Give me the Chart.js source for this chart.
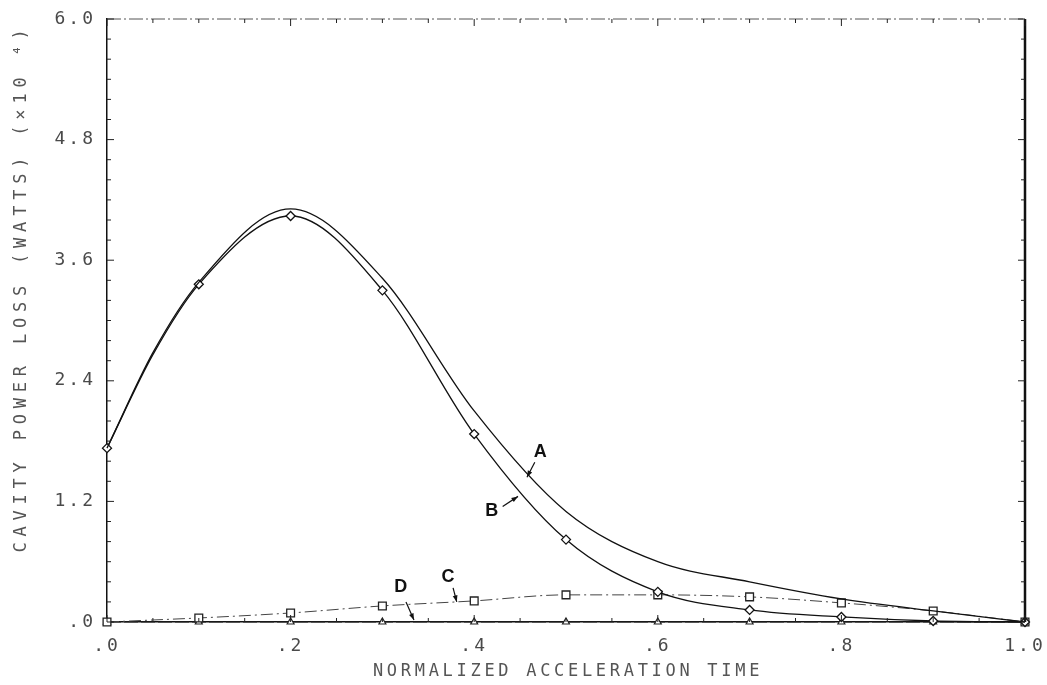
<!DOCTYPE html>
<html>
<head>
<meta charset="utf-8">
<title>Cavity power loss</title>
<script src="https://cdn.jsdelivr.net/npm/chart.js@4/dist/chart.umd.min.js"></script>
<style>
  html, body { margin: 0; padding: 0; background: #fff; }
  #wrap { width: 1047px; height: 685px; }
</style>
</head>
<body>
<div id="wrap"><canvas id="chart" width="1047" height="685"></canvas></div>
<script>
// normalized acceleration time (0.05 added where the rise is steep)
const times = [0, 0.05, 0.1, 0.2, 0.3, 0.4, 0.5, 0.6, 0.7, 0.8, 0.9, 1.0];
// cavity power loss, units of 10^4 W
const curveA = [1.73, 2.68, 3.38, 4.11, 3.42, 2.10, 1.10, 0.60, 0.40, 0.23, 0.11, 0.0];
const curveB = [1.73, 2.66, 3.36, 4.04, 3.30, 1.87, 0.82, 0.30, 0.12, 0.05, 0.01, 0.0];
const curveC = [0.0, 0.02, 0.04, 0.09, 0.16, 0.21, 0.27, 0.27, 0.25, 0.19, 0.11, 0.0];
const curveD = [0, 0, 0, 0, 0, 0, 0, 0, 0, 0, 0, 0];

const xTitle = 'NORMALIZED ACCELERATION TIME';
const yTitle = 'CAVITY POWER LOSS (WATTS) (\u00d710 \u2074)';

// curve labels with little arrows (data coords)
const callouts = [
  { text: 'A', tx: 0.472, ty: 1.69, from: [0.466, 1.59], to: [0.4575, 1.44] },
  { text: 'B', tx: 0.419, ty: 1.10, from: [0.431, 1.15], to: [0.4477, 1.25] },
  { text: 'C', tx: 0.3715, ty: 0.45, from: [0.377, 0.34], to: [0.381, 0.20] },
  { text: 'D', tx: 0.320, ty: 0.35, from: [0.3257, 0.20], to: [0.3344, 0.02] }
];

const pts = vals => times.map((t, i) => ({ x: t, y: vals[i] }));
const fmt = v => v.toFixed(1).replace(/^0/, '');
// markers only on the 0.1 grid
const onGrid = ctx => Math.abs(ctx.raw.x * 10 - Math.round(ctx.raw.x * 10)) < 1e-6;

const framePlugin = {
  id: 'frame',
  beforeDraw(chart) {
    chart.ctx.letterSpacing = '3px';
  },
  afterDraw(chart) {
    const { ctx, chartArea: a, scales: { x, y } } = chart;
    ctx.save();
    ctx.letterSpacing = '0px';

    // top border, dash-dot
    ctx.strokeStyle = '#555';
    ctx.lineWidth = 1;
    ctx.setLineDash([14, 3, 2, 3]);
    ctx.beginPath();
    ctx.moveTo(a.left, a.top);
    ctx.lineTo(a.right, a.top);
    ctx.stroke();
    ctx.setLineDash([]);

    // right border
    ctx.strokeStyle = '#111';
    ctx.lineWidth = 2.5;
    ctx.beginPath();
    ctx.moveTo(a.right, a.top);
    ctx.lineTo(a.right, a.bottom);
    ctx.stroke();

    // inward tick marks
    ctx.lineWidth = 1;
    ctx.strokeStyle = '#222';
    ctx.beginPath();
    for (let i = 0; i <= 20; i++) {
      const px = x.getPixelForValue(i / 20);
      const len = i % 4 === 0 ? 7 : 4;
      ctx.moveTo(px, a.bottom); ctx.lineTo(px, a.bottom - len);
      ctx.moveTo(px, a.top); ctx.lineTo(px, a.top + len);
    }
    for (let i = 0; i <= 30; i++) {
      const py = y.getPixelForValue(i * 0.2);
      const len = i % 6 === 0 ? 7 : 4;
      ctx.moveTo(a.left, py); ctx.lineTo(a.left + len, py);
      ctx.moveTo(a.right, py); ctx.lineTo(a.right - len, py);
    }
    ctx.stroke();

    // axis titles
    ctx.fillStyle = '#555';
    ctx.font = '17px "DejaVu Sans Mono"';
    ctx.textAlign = 'center';
    ctx.textBaseline = 'middle';
    ctx.letterSpacing = '3.7px';
    ctx.fillText(xTitle, (a.left + a.right) / 2 + 2, 672);
    ctx.save();
    ctx.letterSpacing = '5.8px';
    ctx.translate(22, 291);
    ctx.rotate(-Math.PI / 2);
    ctx.fillText(yTitle, 3, 0);
    ctx.restore();

    // callouts
    ctx.letterSpacing = '0px';
    ctx.fillStyle = '#111';
    ctx.strokeStyle = '#111';
    ctx.lineWidth = 1.2;
    ctx.font = 'bold 18px "Liberation Sans"';
    callouts.forEach(c => {
      ctx.fillText(c.text, x.getPixelForValue(c.tx), y.getPixelForValue(c.ty));
      const x0 = x.getPixelForValue(c.from[0]), y0 = y.getPixelForValue(c.from[1]);
      const x1 = x.getPixelForValue(c.to[0]), y1 = y.getPixelForValue(c.to[1]);
      ctx.beginPath();
      ctx.moveTo(x0, y0);
      ctx.lineTo(x1, y1);
      ctx.stroke();
      const ang = Math.atan2(y1 - y0, x1 - x0);
      ctx.beginPath();
      ctx.moveTo(x1, y1);
      ctx.lineTo(x1 - 7 * Math.cos(ang - 0.35), y1 - 7 * Math.sin(ang - 0.35));
      ctx.lineTo(x1 - 7 * Math.cos(ang + 0.35), y1 - 7 * Math.sin(ang + 0.35));
      ctx.closePath();
      ctx.fill();
    });
    ctx.restore();
  }
};

new Chart(document.getElementById('chart'), {
  type: 'line',
  data: {
    datasets: [
      {
        label: 'A', data: pts(curveA),
        borderColor: '#111', borderWidth: 1.3,
        pointRadius: 0, cubicInterpolationMode: 'monotone'
      },
      {
        label: 'B', data: pts(curveB),
        borderColor: '#111', borderWidth: 1.3,
        pointStyle: 'rectRot', pointRadius: c => onGrid(c) ? 4.5 : 0,
        pointBackgroundColor: '#fff', pointBorderColor: '#111', pointBorderWidth: 1.3,
        cubicInterpolationMode: 'monotone'
      },
      {
        label: 'C', data: pts(curveC),
        borderColor: '#444', borderWidth: 1, borderDash: [12, 4, 2, 4],
        pointStyle: 'rect', pointRadius: c => onGrid(c) ? 5.5 : 0,
        pointBackgroundColor: '#fff', pointBorderColor: '#222', pointBorderWidth: 1.3,
        cubicInterpolationMode: 'monotone'
      },
      {
        label: 'D', data: pts(curveD),
        borderColor: '#222', borderWidth: 1.2, borderDash: [14, 3],
        pointStyle: 'triangle', pointRadius: c => onGrid(c) ? 4 : 0,
        pointBackgroundColor: '#fff', pointBorderColor: '#222', pointBorderWidth: 1.2
      }
    ]
  },
  options: {
    responsive: false,
    animation: false,
    clip: false,
    layout: { padding: { top: 19, right: 22, left: 0, bottom: 0 } },
    plugins: { legend: { display: false }, tooltip: { enabled: false } },
    scales: {
      x: {
        type: 'linear', min: 0, max: 1,
        grid: { display: false },
        border: { display: true, color: '#111', width: 1.5 },
        ticks: {
          stepSize: 0.2, padding: 6, maxRotation: 0,
          color: '#4a4a4a', font: { family: 'DejaVu Sans Mono', size: 18 },
          callback: v => fmt(v)
        },
        afterFit: s => { s.height = 63; s.paddingLeft = 0; s.paddingRight = 0; }
      },
      y: {
        min: 0, max: 6,
        grid: { display: false },
        border: { display: true, color: '#111', width: 1.5 },
        ticks: {
          stepSize: 1.2, padding: 3,
          color: '#4a4a4a', font: { family: 'DejaVu Sans Mono', size: 18 },
          callback: v => fmt(v)
        },
        afterFit: s => { s.width = 107; s.paddingTop = 0; s.paddingBottom = 0; }
      }
    }
  },
  plugins: [framePlugin]
});
</script>
</body>
</html>
